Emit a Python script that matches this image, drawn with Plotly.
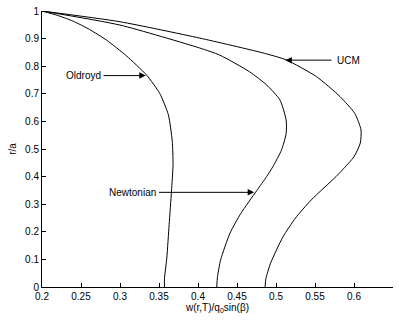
import plotly.graph_objects as go

# Oldroyd curve (x = w/q0 sin(beta), y = r/a)
old_x = [0.200, 0.220, 0.240, 0.261, 0.283, 0.308, 0.334, 0.351, 0.362, 0.367, 0.368, 0.366, 0.363, 0.360, 0.357, 0.357]
old_y = [1.000, 0.984, 0.963, 0.933, 0.894, 0.838, 0.768, 0.701, 0.624, 0.528, 0.443, 0.347, 0.226, 0.105, 0.030, 0.000]

# Newtonian curve
new_x = [0.200, 0.300, 0.402, 0.428, 0.466, 0.488, 0.505, 0.513, 0.513, 0.507, 0.496, 0.488, 0.475, 0.455, 0.441, 0.429, 0.425, 0.424]
new_y = [1.000, 0.949, 0.866, 0.840, 0.780, 0.732, 0.678, 0.605, 0.556, 0.496, 0.436, 0.400, 0.348, 0.267, 0.195, 0.098, 0.037, 0.000]

# UCM curve
ucm_x = [0.200, 0.300, 0.402, 0.482, 0.513, 0.552, 0.582, 0.601, 0.609, 0.608, 0.600, 0.585, 0.577, 0.545, 0.525, 0.509, 0.493, 0.487, 0.486]
ucm_y = [1.000, 0.961, 0.902, 0.849, 0.823, 0.762, 0.690, 0.629, 0.569, 0.521, 0.472, 0.424, 0.400, 0.315, 0.250, 0.182, 0.086, 0.030, 0.000]

x_ticks = [0.2, 0.25, 0.3, 0.35, 0.4, 0.45, 0.5, 0.55, 0.6, 0.65]
x_labels = ["0.2", "0.25", "0.3", "0.35", "0.4", "0.45", "0.5", "0.55", "0.6", "0.65"]
y_ticks = [0, 0.1, 0.2, 0.3, 0.4, 0.5, 0.6, 0.7, 0.8, 0.9, 1]
y_labels = ["0", "0.1", "0.2", "0.3", "0.4", "0.5", "0.6", "0.7", "0.8", "0.9", "1"]

# labels: (text, arrow tip x, tip y, tail x, tail y)
labels = [
    ("Oldroyd", 0.333, 0.766, 0.277, 0.766),
    ("Newtonian", 0.472, 0.343, 0.348, 0.343),
    ("UCM", 0.512, 0.822, 0.573, 0.822),
]

FONT = "Liberation Sans, Arial, sans-serif"
fig = go.Figure()
for xs, ys in [(old_x, old_y), (new_x, new_y), (ucm_x, ucm_y)]:
    fig.add_trace(go.Scatter(x=xs, y=ys, mode="lines",
                             line=dict(color="black", width=1, shape="spline", smoothing=0.6),
                             showlegend=False, hoverinfo="skip"))

for text, tx, ty, ax, ay in labels:
    fig.add_annotation(x=tx, y=ty, ax=ax, ay=ay, xref="x", yref="y", axref="x", ayref="y",
                       text="", showarrow=True, arrowhead=2, arrowsize=1.3, arrowwidth=1,
                       arrowcolor="black")
    if ax < tx:
        fig.add_annotation(x=ax, y=ay, xref="x", yref="y", text=text, showarrow=False,
                           xanchor="right", xshift=1, font=dict(family=FONT, size=10, color="black"))
    else:
        fig.add_annotation(x=ax, y=ay, xref="x", yref="y", text=text, showarrow=False,
                           xanchor="left", xshift=2, font=dict(family=FONT, size=10, color="black"))

fig.update_layout(
    width=399, height=320,
    margin=dict(l=42, r=6, t=11, b=33),
    plot_bgcolor="white", paper_bgcolor="white",
    font=dict(family=FONT, size=10, color="black"),
    xaxis=dict(range=[0.2, 0.65], tickvals=x_ticks, ticktext=x_labels,
               showgrid=False, zeroline=False, showline=True, linecolor="black", linewidth=1,
               ticks="inside", ticklen=4, tickcolor="black",
               title=dict(text="w(r,T)/q<sub>0</sub>sin(β)", standoff=2, font=dict(size=10))),
    yaxis=dict(range=[0, 1], tickvals=y_ticks, ticktext=y_labels,
               showgrid=False, zeroline=False, showline=True, linecolor="black", linewidth=1,
               ticks="inside", ticklen=4, tickcolor="black",
               title=dict(text="r/a", standoff=6, font=dict(size=10))),
)
fig.write_html("out.html")
